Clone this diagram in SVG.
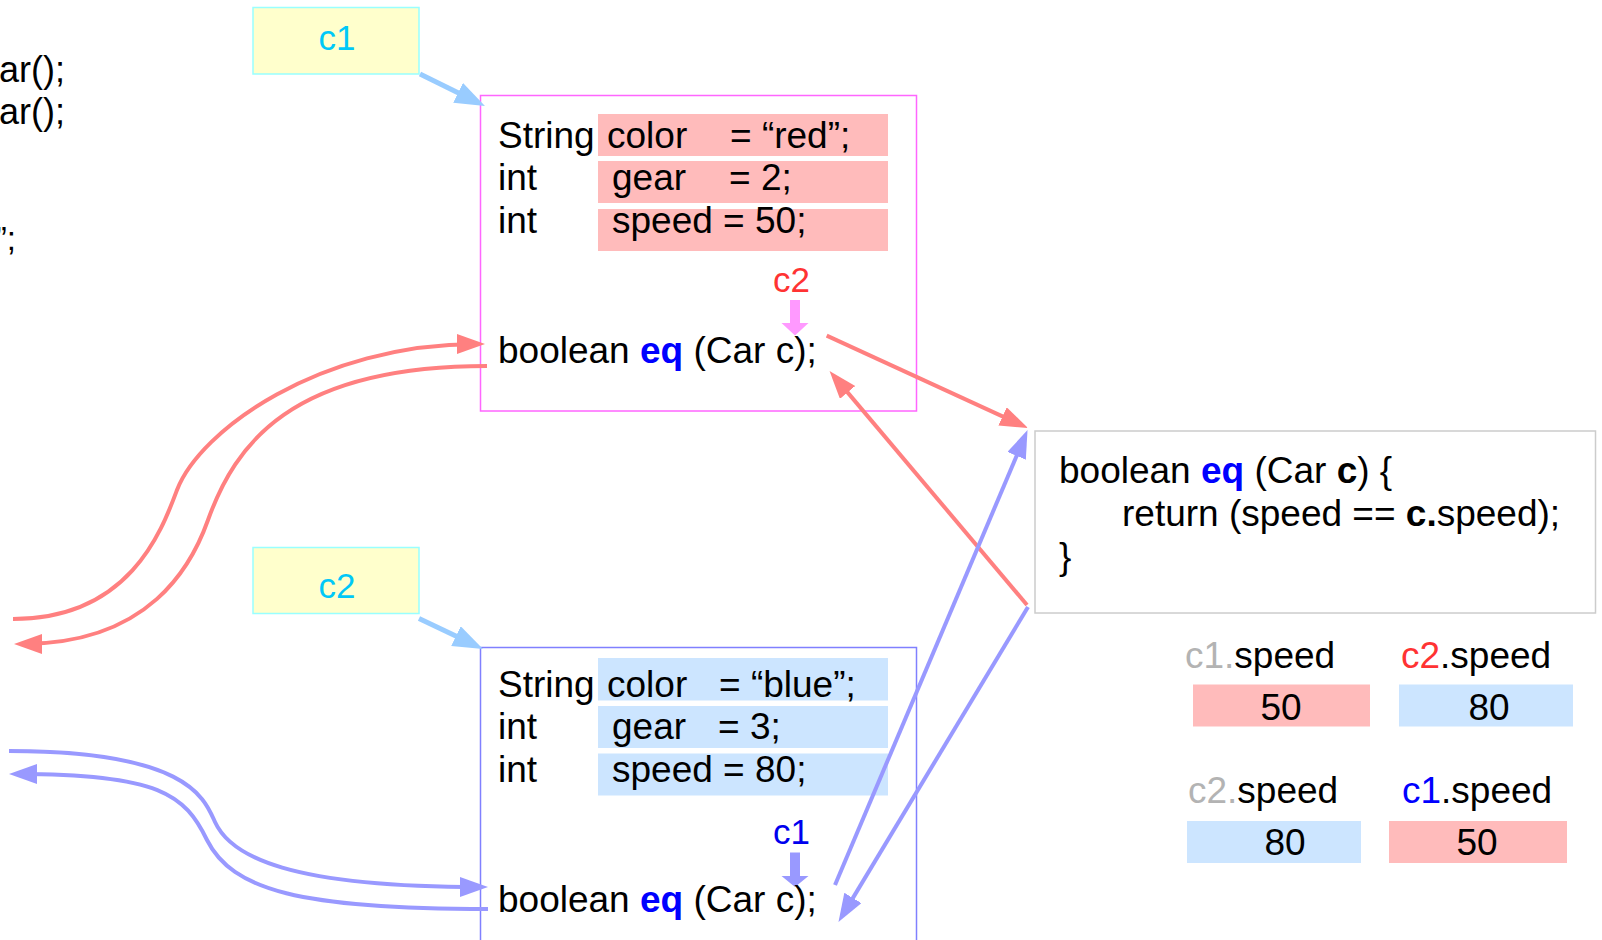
<svg xmlns="http://www.w3.org/2000/svg" width="1602" height="940" viewBox="0 0 1602 940">
<style>
text{font-family:"Liberation Sans",Arial,sans-serif;font-size:37px;fill:#000}
.b{font-weight:bold}
.eq{font-weight:bold;fill:#0000ff}
.lbl{font-size:35px;fill:#00c8f8}
.red{fill:#ff3333}
.blu{fill:#0000ee}
.gry{fill:#b3b3b3}
.ybox{fill:#ffffcc;stroke:#99ffff;stroke-width:1.5}
.rbar{fill:#ffbbbb}
.bbar{fill:#cce5ff}
.cr{fill:none;stroke:#ff8080;stroke-width:4}
.cb{fill:none;stroke:#9999ff;stroke-width:4}
.cl{fill:none;stroke:#99ccff;stroke-width:5}
</style>
<defs>
<marker id="ar" markerUnits="userSpaceOnUse" markerWidth="30" markerHeight="22" refX="20" refY="10" orient="auto"><path d="M0,0 L28,10 L0,20 z" fill="#ff8080"/></marker>
<marker id="ab" markerUnits="userSpaceOnUse" markerWidth="30" markerHeight="22" refX="20" refY="10" orient="auto"><path d="M0,0 L28,10 L0,20 z" fill="#9999ff"/></marker>
<marker id="al" markerUnits="userSpaceOnUse" markerWidth="32" markerHeight="24" refX="22" refY="11" orient="auto"><path d="M0,0 L30,11 L0,22 z" fill="#99ccff"/></marker>
</defs>

<g id="left-code">
<text x="65" y="82" text-anchor="end" style="font-size:36px">ar();</text>
<text x="65" y="124" text-anchor="end" style="font-size:36px">ar();</text>
<text x="16" y="250" text-anchor="end" style="font-size:33px">”;</text>
</g>

<g id="ref-c1">
<rect class="ybox" x="253" y="7.5" width="166" height="66.5"/>
<text class="lbl" x="337" y="50" text-anchor="middle">c1</text>
</g>

<g id="ref-c2">
<rect class="ybox" x="253" y="547.5" width="166" height="66"/>
<text class="lbl" x="337" y="598" text-anchor="middle">c2</text>
</g>

<g id="obj-c1">
<rect x="480.5" y="95.5" width="436" height="315.5" fill="#fff" stroke="#ff66ff" stroke-width="1.5"/>
<rect class="rbar" x="598" y="114" width="290" height="42"/>
<rect class="rbar" x="598" y="161" width="290" height="42"/>
<rect class="rbar" x="598" y="209" width="290" height="42"/>
<text x="498" y="148">String</text>
<text x="607" y="148">color</text>
<text x="730" y="148">= “red”;</text>
<text x="498" y="190">int</text>
<text x="612" y="190">gear</text>
<text x="729" y="190">= 2;</text>
<text x="498" y="233">int</text>
<text x="612" y="233">speed = 50;</text>
<text class="red" x="773" y="292" style="font-size:35px">c2</text>
<path d="M790,300 H800 V323 H808.5 L795,335.5 L781.5,323 H790 z" fill="#ff99ff"/>
<text x="498" y="363">boolean <tspan class="eq">eq</tspan> (Car c);</text>
</g>

<g id="obj-c2">
<rect x="480.5" y="647.5" width="436" height="300" fill="#fff" stroke="#8080ff" stroke-width="1.5"/>
<rect class="bbar" x="598" y="658" width="290" height="42.5"/>
<rect class="bbar" x="598" y="706" width="290" height="42"/>
<rect class="bbar" x="598" y="753.5" width="290" height="42"/>
<text x="498" y="697">String</text>
<text x="607" y="697">color</text>
<text x="719" y="697">= “blue”;</text>
<text x="498" y="739">int</text>
<text x="612" y="739">gear</text>
<text x="718" y="739">= 3;</text>
<text x="498" y="782">int</text>
<text x="612" y="782">speed = 80;</text>
<text class="blu" x="773" y="844" style="font-size:35px">c1</text>
<path d="M790,852.5 H800 V876 H808.5 L795,887 L781.5,876 H790 z" fill="#9999ff"/>
<text x="498" y="912">boolean <tspan class="eq">eq</tspan> (Car c);</text>
</g>

<g id="method">
<rect x="1035" y="431" width="560.5" height="182" fill="#fff" stroke="#cccccc" stroke-width="1.5"/>
<text x="1059" y="483">boolean <tspan class="eq">eq</tspan> (Car <tspan class="b">c</tspan>) {</text>
<text x="1122" y="526">return (speed == <tspan class="b">c.</tspan>speed);</text>
<text x="1059" y="569">}</text>
</g>

<g id="values">
<text x="1185" y="668"><tspan class="gry">c1.</tspan>speed</text>
<rect class="rbar" x="1193" y="684.5" width="177" height="42"/>
<text x="1281" y="720" text-anchor="middle">50</text>
<text x="1401" y="668"><tspan class="red">c2</tspan>.speed</text>
<rect class="bbar" x="1399" y="684.5" width="174" height="42"/>
<text x="1489" y="720" text-anchor="middle">80</text>
<text x="1188" y="803"><tspan class="gry">c2.</tspan>speed</text>
<rect class="bbar" x="1187" y="821" width="174" height="42"/>
<text x="1285" y="855" text-anchor="middle">80</text>
<text x="1402" y="803"><tspan style="fill:#0000ff">c1</tspan>.speed</text>
<rect class="rbar" x="1389" y="821" width="178" height="42"/>
<text x="1477" y="855" text-anchor="middle">50</text>
</g>

<g id="connectors">
<path class="cl" d="M420,74 L477.8,102.5" marker-end="url(#al)"/>
<path class="cl" d="M419,618.5 L475.8,645.6" marker-end="url(#al)"/>
<path class="cr" d="M13,619 C130,619 162,530 177,490 C200,430 320,344 477,344" marker-end="url(#ar)"/>
<path class="cr" d="M487,366 C290,366 235,445 208,520 C192,565 150,644 22,644" marker-end="url(#ar)"/>
<path class="cb" d="M9,751 C190,751 205,800 215,822 C231,857 290,887 480,887" marker-end="url(#ab)"/>
<path class="cb" d="M488,909 C300,909 232,890 207,840 C185,795 160,774 17,774" marker-end="url(#ab)"/>
<path class="cr" d="M826.7,335.6 L1020.7,424.7" marker-end="url(#ar)"/>
<path class="cr" d="M1027,605 L834.7,377.1" marker-end="url(#ar)"/>
<path class="cb" d="M835,885 L1024.4,437.4" marker-end="url(#ab)"/>
<path class="cb" d="M1028,607 L842.6,915.1" marker-end="url(#ab)"/>
</g>
</svg>
